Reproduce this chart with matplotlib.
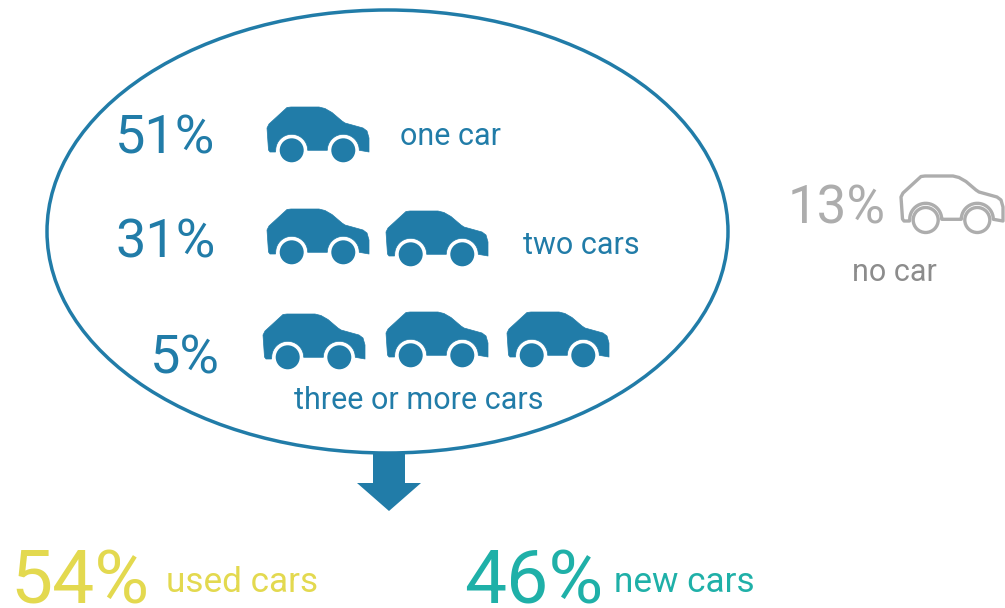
import numpy as np
import matplotlib
matplotlib.use("Agg")
import matplotlib.pyplot as plt
from matplotlib.patches import Ellipse, PathPatch, Polygon, Circle
from matplotlib.path import Path

W, H = 1005, 608
BLUE, GREY, DGREY, YEL, TEAL = "#217ca8", "#adadad", "#8c8c8c", "#e3d94f", "#1fb0a8"
FONT = "Roboto"

owned_pct = ["51%", "31%", "5%"]
owned_label = ["one car", "two cars", "three or more cars"]
owned_count = [1, 2, 3]
none_pct, none_label = "13%", "no car"
used_pct, used_label = "54%", "used cars"
new_pct, new_label = "46%", "new cars"

pct_pos = [(115, 153), (115, 258), (150, 373)]
label_pos = [(400, 145), (523, 254), (294, 409)]
car_pos = [[(267, 107)], [(267, 209), (386, 211)], [(263, 314), (386, 312), (507, 312)]]

fig = plt.figure(figsize=(W / 100, H / 100), dpi=100)
ax = fig.add_axes([0, 0, 1, 1])
ax.set_xlim(0, W); ax.set_ylim(H, 0); ax.axis("off")


def car_vertices():
    """Car outline in local pixels with wheel arches cut in (y downward)."""
    WX, WY, R = (24.7, 76.3), 43.3, 16.0
    top = [(8.5, 45), (3, 45), (1.5, 43), (0, 21), (2, 17), (20, 0.5), (24, 0),
           (52, 0), (58, 1.5), (65, 5.5), (75, 14), (78, 16), (96, 21), (100, 24),
           (102, 31), (102, 45)]
    pts = list(top)
    for wx in WX[::-1]:
        a = np.radians(np.linspace(0, 180, 24))
        pts += list(zip(wx + R * np.cos(a), WY - R * np.sin(a)))
    return np.array(pts), WX, WY


def car(x0, y0, filled=True, color=BLUE):
    v, WX, WY = car_vertices()
    v = v + (x0, y0)
    if filled:
        ax.add_patch(Polygon(v, closed=True, fc=color, ec=color, lw=0.5, joinstyle="round", zorder=3))
        for wx in WX:
            ax.add_patch(Circle((x0 + wx, y0 + WY), 12, fc=color, ec="none", zorder=3))
    else:
        ax.add_patch(Polygon(v, closed=True, fc="white", ec=color, lw=2.4, joinstyle="round", zorder=3))
        for wx in WX:
            ax.add_patch(Circle((x0 + wx, y0 + WY + 0.7), 12.5, fc="white", ec=color, lw=2.4, zorder=4))


def txt(x, y, s, size, color, weight="normal"):
    ax.text(x, y, s, fontsize=size, color=color, family=FONT, weight=weight, ha="left", va="baseline")


ax.add_patch(Ellipse((387.5, 231.5), 681, 443, fc="none", ec=BLUE, lw=2.5))
arrow = Path([(373, 453), (405, 453), (405, 483), (421, 483), (389, 511), (357, 483), (373, 483), (373, 453)], closed=True)
ax.add_patch(PathPatch(arrow, fc=BLUE, ec="none"))

for p, (x, y) in zip(owned_pct, pct_pos):
    txt(x, y, p, 39, BLUE)
for s, (x, y) in zip(owned_label, label_pos):
    txt(x, y, s, 22, BLUE)
for n, row in zip(owned_count, car_pos):
    for (x, y) in row[:n]:
        car(x, y)

txt(788, 224, none_pct, 38, GREY)
car(901, 176, filled=False, color=GREY)
txt(852, 281, none_label, 22, DGREY)

txt(10, 603, used_pct, 54, YEL)
txt(166, 592, used_label, 25.3, YEL)
txt(464, 603, new_pct, 54, TEAL)
txt(614, 592, new_label, 25.3, TEAL)

fig.savefig("out.png", dpi=100)
